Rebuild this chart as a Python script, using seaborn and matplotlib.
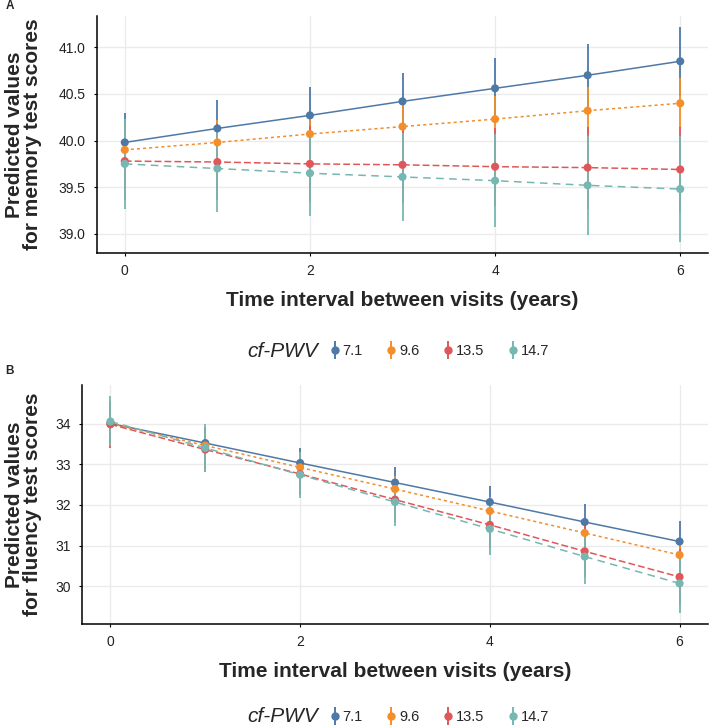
"""Predicted memory / fluency scores over time by cf-PWV level (two stacked panels)."""
import matplotlib

matplotlib.use("Agg")

import matplotlib.pyplot as plt  # noqa: E402
import numpy as np  # noqa: E402
import pandas as pd  # noqa: E402
import seaborn as sns  # noqa: E402
from matplotlib.lines import Line2D  # noqa: E402

# ---- data ---------------------------------------------------------------
years = [0, 1, 2, 3, 4, 5, 6]
pwv_levels = ["7.1", "9.6", "13.5", "14.7"]

memory_pred = {
    "7.1": [39.98, 40.13, 40.27, 40.42, 40.56, 40.70, 40.85],
    "9.6": [39.90, 39.98, 40.07, 40.15, 40.23, 40.32, 40.40],
    "13.5": [39.78, 39.77, 39.75, 39.74, 39.72, 39.71, 39.69],
    "14.7": [39.75, 39.70, 39.65, 39.61, 39.57, 39.52, 39.48],
}
memory_lo = {
    "7.1": [39.66, 39.83, 39.97, 40.12, 40.24, 40.36, 40.48],
    "9.6": [39.64, 39.74, 39.83, 39.91, 39.98, 40.07, 40.13],
    "13.5": [39.36, 39.36, 39.34, 39.33, 39.30, 39.27, 39.23],
    "14.7": [39.27, 39.23, 39.19, 39.14, 39.07, 38.99, 38.91],
}
memory_hi = {
    "7.1": [40.30, 40.43, 40.57, 40.72, 40.88, 41.04, 41.22],
    "9.6": [40.16, 40.22, 40.31, 40.39, 40.48, 40.57, 40.67],
    "13.5": [40.20, 40.18, 40.16, 40.15, 40.14, 40.15, 40.15],
    "14.7": [40.23, 40.17, 40.11, 40.08, 40.07, 40.05, 40.05],
}

fluency_pred = {
    "7.1": [34.00, 33.52, 33.03, 32.55, 32.07, 31.58, 31.10],
    "9.6": [34.00, 33.46, 32.92, 32.39, 31.85, 31.31, 30.77],
    "13.5": [33.98, 33.36, 32.76, 32.13, 31.51, 30.86, 30.23],
    "14.7": [34.05, 33.40, 32.74, 32.07, 31.41, 30.73, 30.07],
}
fluency_lo = {
    "7.1": [33.55, 33.12, 32.65, 32.17, 31.66, 31.14, 30.60],
    "9.6": [33.60, 33.10, 32.59, 32.06, 31.51, 30.95, 30.37],
    "13.5": [33.40, 32.81, 32.24, 31.59, 30.93, 30.24, 29.54],
    "14.7": [33.44, 32.81, 32.18, 31.48, 30.77, 30.06, 29.34],
}
fluency_hi = {
    "7.1": [34.45, 33.92, 33.40, 32.93, 32.47, 32.02, 31.60],
    "9.6": [34.40, 33.82, 33.25, 32.72, 32.19, 31.67, 31.17],
    "13.5": [34.56, 33.91, 33.28, 32.67, 32.09, 31.48, 30.92],
    "14.7": [34.68, 34.00, 33.30, 32.66, 32.05, 31.40, 30.80],
}

palette = dict(zip(pwv_levels, ["#4E79A7", "#F28E2B", "#E15759", "#76B7B2"]))
dashes = dict(zip(pwv_levels, ["", (2, 2), (4.5, 2), (5, 3.5)]))

sns.set_theme(style="white")
plt.rcParams["font.family"] = ["Liberation Sans", "DejaVu Sans"]


def to_long(pred, lo, hi):
    rows = []
    for lvl in pwv_levels:
        for i, yr in enumerate(years):
            rows.append({"year": yr, "pwv": lvl, "pred": pred[lvl][i],
                         "lo": lo[lvl][i], "hi": hi[lvl][i]})
    return pd.DataFrame(rows)


def draw_panel(ax, df, ylabel, yticks, fmt):
    # error bars first, in group order, then lines, then points
    for lvl in pwv_levels:
        sub = df[df["pwv"] == lvl]
        ax.vlines(sub["year"], sub["lo"], sub["hi"], color=palette[lvl],
                  lw=1.3, zorder=2)
    sns.lineplot(data=df, x="year", y="pred", hue="pwv", style="pwv",
                 hue_order=pwv_levels, style_order=pwv_levels,
                 palette=palette, dashes=dashes, lw=1.1, legend=False,
                 ax=ax, zorder=3)
    sns.scatterplot(data=df, x="year", y="pred", hue="pwv",
                    hue_order=pwv_levels, palette=palette, s=34,
                    linewidth=0, legend=False, ax=ax, zorder=4)

    lo_all, hi_all = df["lo"].min(), df["hi"].max()
    pad = 0.05 * (hi_all - lo_all)
    ax.set_ylim(lo_all - pad, hi_all + pad)
    ax.set_xlim(-0.3, 6.3)
    ax.set_xticks([0, 2, 4, 6])
    ax.set_yticks(yticks)
    ax.set_yticklabels([fmt.format(v) for v in yticks])

    ax.grid(True, color="#EBEBEB", lw=1.0, zorder=0)
    ax.set_axisbelow(True)
    sns.despine(ax=ax)
    for side in ("left", "bottom"):
        ax.spines[side].set_linewidth(1.1)
        ax.spines[side].set_color("black")
    ax.tick_params(axis="both", length=2.2, width=0.8, color="black",
                   pad=6, labelsize=10, labelcolor="#222222",
                   left=True, bottom=True)

    ax.set_xlabel("Time interval between visits (years)", fontsize=15,
                  fontweight="bold", labelpad=9)
    ax.set_ylabel(ylabel, fontsize=15, fontweight="bold", linespacing=0.95)


def add_legend(fig, y_px):
    W, H = 709, 726
    fig.text(247 / W, 1 - y_px / H, "cf-PWV", fontsize=15, style="italic",
             va="center", ha="left")
    handles = [
        (Line2D([], [], color=palette[l], marker="|", markersize=13, mew=1.4, ls="none"),
         Line2D([], [], color=palette[l], marker="o", markersize=5, ls="none"))
        for l in pwv_levels
    ]
    fig.legend(handles, pwv_levels, loc="center left",
               bbox_to_anchor=(331 / W, 1 - y_px / H), ncol=4, frameon=False,
               fontsize=10.5, handlelength=0.5, handletextpad=0.3,
               columnspacing=1.7, borderpad=0, borderaxespad=0)


fig = plt.figure(figsize=(7.09, 7.26), dpi=100)
W, H = 709, 726
ax_a = fig.add_axes([97 / W, 1 - 253 / H, (708 - 97) / W, (253 - 16) / H])
ax_b = fig.add_axes([82 / W, 1 - 624 / H, (708 - 82) / W, (624 - 385) / H])

draw_panel(ax_a, to_long(memory_pred, memory_lo, memory_hi),
           "Predicted values\nfor memory test scores",
           [39.0, 39.5, 40.0, 40.5, 41.0], "{:.1f}")
draw_panel(ax_b, to_long(fluency_pred, fluency_lo, fluency_hi),
           "Predicted values\nfor fluency test scores",
           [30, 31, 32, 33, 34], "{:d}")
ax_a.yaxis.set_label_coords(-0.09, 0.5)
ax_b.yaxis.set_label_coords(-0.064, 0.5)

add_legend(fig, 351)
add_legend(fig, 717)

fig.text(10 / W, 1 - 6 / H, "A", fontsize=8.5, fontweight="bold", va="center", ha="center")
fig.text(10 / W, 1 - 371 / H, "B", fontsize=8.5, fontweight="bold", va="center", ha="center")

fig.savefig("out.png", dpi=100, facecolor="white")
